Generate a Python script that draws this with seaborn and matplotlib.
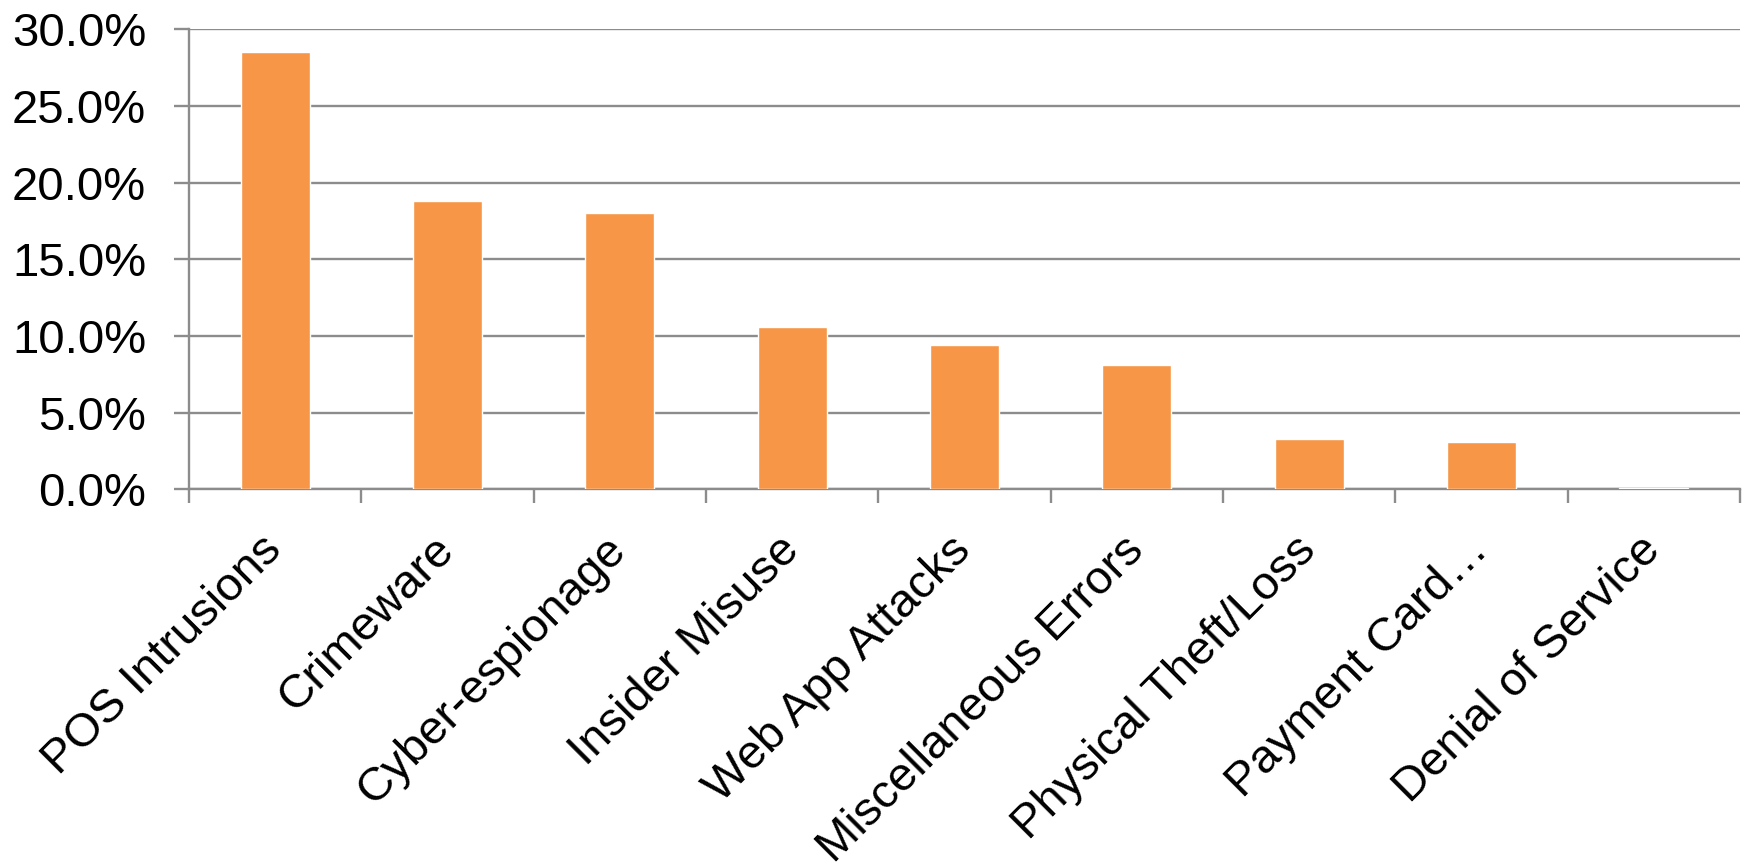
import matplotlib
matplotlib.use("Agg")
import matplotlib.pyplot as plt
import seaborn as sns
import pandas as pd
from matplotlib.ticker import PercentFormatter, FixedLocator

categories = ["POS Intrusions", "Crimeware", "Cyber-espionage", "Insider Misuse",
              "Web App Attacks", "Miscellaneous Errors", "Physical Theft/Loss",
              "Payment Card…", "Denial of Service"]
values = [28.5, 18.8, 18.0, 10.6, 9.4, 8.1, 3.3, 3.1, 0.1]
yticks = [0, 5, 10, 15, 20, 25, 30]

df = pd.DataFrame({"category": categories, "value": values})

sns.set_theme(style="white")
plt.rcParams['font.family'] = ['Liberation Sans', 'DejaVu Sans']

fig = plt.figure(figsize=(17.46, 8.63), dpi=100)
ax = fig.add_axes([189/1746, 1-489.3/863, (1740-189)/1746, (489.3-29.3)/863])

grid_c = "#8c8c8c"
sns.barplot(data=df, x="category", y="value", color="#F79646", width=0.4,
            saturation=1, ax=ax, zorder=3)

ax.set_ylim(0, 30)
ax.set_xlim(-0.5, len(categories) - 0.5)
ax.set_yticks(yticks)
ax.yaxis.set_major_formatter(PercentFormatter(decimals=1))
ax.grid(axis="y", color=grid_c, linewidth=1.7, zorder=0)
ax.set_axisbelow(True)
ax.set_xlabel("")
ax.set_ylabel("")

for s in ["top", "right"]:
    ax.spines[s].set_visible(False)
for s in ["left", "bottom"]:
    ax.spines[s].set_color(grid_c)
    ax.spines[s].set_linewidth(1.7)

ax.tick_params(axis="y", which="major", length=10.8, width=1.7, color=grid_c,
               labelsize=34, pad=20, left=True, labelcolor="black")
ax.tick_params(axis="x", which="major", length=0, labelsize=34, pad=39,
               labelcolor="black")
ax.xaxis.set_minor_locator(FixedLocator([i - 0.5 for i in range(len(categories) + 1)]))
ax.tick_params(axis="x", which="minor", length=10, width=1.7, color=grid_c, bottom=True)

for lab in ax.get_xticklabels():
    lab.set_rotation(45)
    lab.set_ha("right")
    lab.set_va("center")
    lab.set_rotation_mode("anchor")

fig.savefig("out.png", dpi=100)
